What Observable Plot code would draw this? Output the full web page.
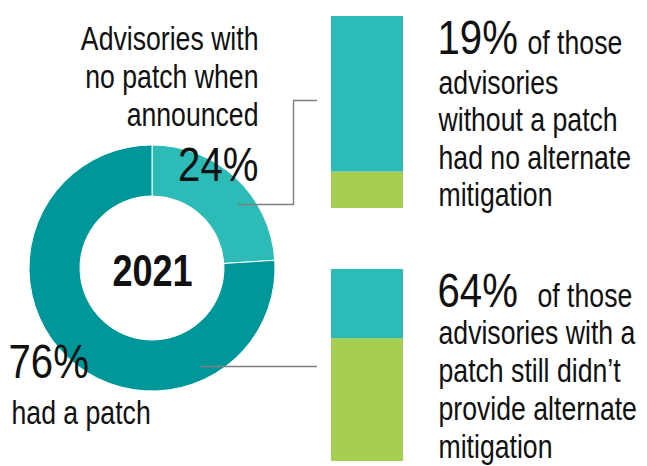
<!DOCTYPE html>
<html><head><meta charset="utf-8">
<script src="https://cdn.jsdelivr.net/npm/d3@7"></script>
<script src="https://cdn.jsdelivr.net/npm/@observablehq/plot@0.6"></script>
<style>
html,body{margin:0;padding:0;background:#fff;}
#chart{position:relative;width:647px;height:466px;overflow:hidden;background:#fff;}
#chart svg{position:absolute;}
</style></head><body><div id="chart"></div>
<script>
// ---- data ----
const donutCategories = ["No patch when announced", "Had a patch"];
const donutValues = [24, 76];
const barGroups = ["Without a patch", "With a patch"];
const mitigationKinds = ["No alternate mitigation", "Alternate mitigation"];
const noAltMitigation = [19, 64];
const altMitigation = [81, 36];
const yearLabel = "2021";
const noPatchLabel = ["Advisories with", "no patch when", "announced"];
const patchLabel = ["had a patch"];
const noteLead = "of those";
const noPatchNote = ["advisories", "without a patch", "had no alternate", "mitigation"];
const patchNote = ["advisories with a", "patch still didn’t", "provide alternate", "mitigation"];

// ---- layout & style ----
const W = 647, H = 466;
const LIGHT = "#2cbbb6", DARK = "#00979a", GREEN = "#a6ce51", LINE = "#7f7f7f";
const FONT = "'Liberation Sans', Arial, sans-serif";
const NARROW = 0.82;
const BODY = 32.5, BIG = 49;
const donut = {cx: 152, cy: 268, r0: 72, r1: 123};
const bars = [{left: 331, top: 16}, {left: 331, top: 269}];
const barW = 72, barH = 192;
const container = document.getElementById("chart");

// ---- text rows (positions from layout) ----
const rows = [];
noPatchLabel.forEach((t, i) => rows.push({t, x: 258, y: 49 + i * 38, s: BODY, a: "end"}));
rows.push({t: `${donutValues[0]}%`, x: 258, y: 180, s: BIG, a: "end"});
rows.push({t: `${donutValues[1]}%`, x: 8, y: 377, s: BIG, a: "start"});
patchLabel.forEach((t, i) => rows.push({t, x: 11, y: 423 + i * 38, s: BODY, a: "start"}));
rows.push({t: `${noAltMitigation[0]}%`, x: 437, y: 53, s: BIG, a: "start"});
rows.push({t: noteLead, x: 527, y: 53, s: BODY, a: "start"});
noPatchNote.forEach((t, i) => rows.push({t, x: 438, y: 93 + i * 37.5, s: BODY, a: "start"}));
rows.push({t: `${noAltMitigation[1]}%`, x: 437, y: 306, s: BIG, a: "start"});
rows.push({t: noteLead, x: 537, y: 306, s: BODY, a: "start"});
patchNote.forEach((t, i) => rows.push({t, x: 438, y: 343 + i * 38, s: BODY, a: "start"}));

const leaders = [
  {id: 0, pts: [[238, 204], [293, 204], [293, 100], [316, 100]]},
  {id: 1, pts: [[200, 366], [316, 366]]}
].flatMap(d => d.pts.map(([x, y]) => ({id: d.id, x, y})));

const donutColor = d3.scaleOrdinal(donutCategories, [LIGHT, DARK]);

function donutMark(index, scales) {
  const g = d3.create("svg:g");
  const cx = scales.x(donut.cx), cy = scales.y(donut.cy);
  const pie = d3.pie().sort(null).value(d => d.v)(donutCategories.map((c, i) => ({c, v: donutValues[i]})));
  const arc = d3.arc().innerRadius(donut.r0).outerRadius(donut.r1);
  g.selectAll("path").data(pie).join("path")
    .attr("transform", `translate(${cx},${cy})`)
    .attr("d", arc)
    .attr("fill", d => donutColor(d.data.c))
    .attr("stroke", "#fff").attr("stroke-width", 1);
  return g.node();
}

const overlay = Plot.plot({
  width: W, height: H, margin: 0,
  style: {background: "transparent", fontFamily: FONT},
  x: {domain: [0, W], range: [0, W], axis: null},
  y: {domain: [0, H], range: [0, H], axis: null},
  marks: [
    donutMark,
    Plot.line(leaders, {x: "x", y: "y", z: "id", stroke: LINE, strokeWidth: 1.4}),
    Plot.text(rows.filter(r => r.a === "end"), {x: "x", y: "y", text: "t", fontSize: "s", textAnchor: "end", lineAnchor: "bottom", fill: "#111", fontFamily: FONT}),
    Plot.text(rows.filter(r => r.a === "start"), {x: "x", y: "y", text: "t", fontSize: "s", textAnchor: "start", lineAnchor: "bottom", fill: "#111", fontFamily: FONT}),
    Plot.text([yearLabel], {x: () => donut.cx, y: () => 285, text: d => d, fontSize: 44, fontWeight: "bold", textAnchor: "middle", lineAnchor: "bottom", fill: "#111", fontFamily: FONT})
  ]
});
// condense the glyphs horizontally around each text's anchor point
d3.select(overlay).selectAll("text").each(function () {
  const t = this.getAttribute("transform");
  if (t) this.setAttribute("transform", `${t} scale(${NARROW},1)`);
  else {
    const x = +this.getAttribute("x") || 0, y = +this.getAttribute("y") || 0;
    this.setAttribute("transform", `translate(${x},${y}) scale(${NARROW},1) translate(${-x},${-y})`);
  }
});
overlay.style.left = "0px"; overlay.style.top = "0px";
container.appendChild(overlay);

bars.forEach((b, i) => {
  const data = [
    {group: barGroups[i], kind: mitigationKinds[0], value: noAltMitigation[i]},
    {group: barGroups[i], kind: mitigationKinds[1], value: altMitigation[i]}
  ];
  const p = Plot.plot({
    width: barW, height: barH, margin: 0,
    style: {background: "transparent"},
    x: {axis: null, padding: 0},
    y: {axis: null, domain: [0, 100]},
    color: {domain: mitigationKinds, range: [GREEN, LIGHT]},
    marks: [Plot.barY(data, {x: "group", y: "value", fill: "kind"})]
  });
  p.style.left = b.left + "px"; p.style.top = b.top + "px";
  container.appendChild(p);
});
</script></body></html>
